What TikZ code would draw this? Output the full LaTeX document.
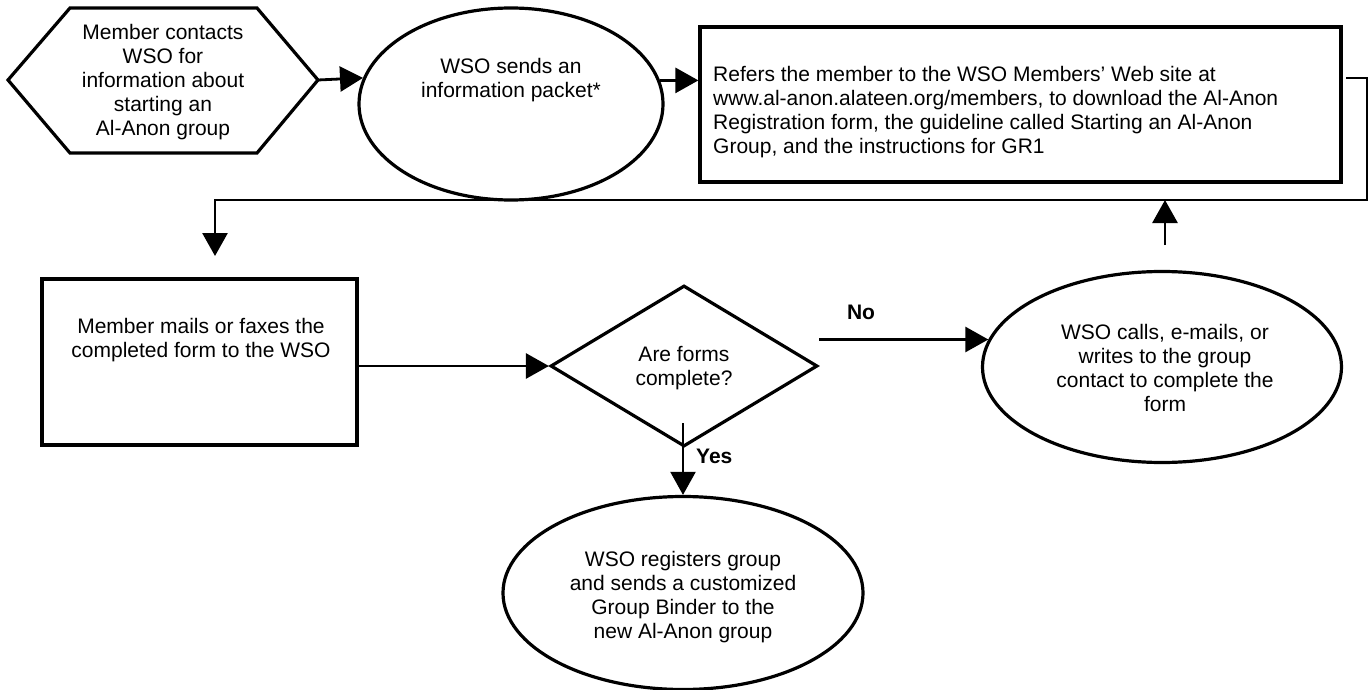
\documentclass[tikz,border=0pt]{standalone}
\usepackage{fontspec}
\setmainfont{Liberation Sans}
\usetikzlibrary{shapes.geometric,arrows.meta,calc}
\begin{document}
\begin{tikzpicture}[x=1pt,y=-1pt,
  every node/.style={font=\fontsize{21}{24}\selectfont},
  shp/.style={draw,line width=3.2pt,inner sep=0pt},
  con/.style={line width=2.8pt,line join=miter},
  arr/.style={con,-{Triangle[length=23pt,width=25pt]}},
  txt/.style={align=center,inner sep=0pt},
  lbl/.style={font=\bfseries\fontsize{21}{24}\selectfont}]
\useasboundingbox (0,0) rectangle (1369,690);
% hexagon
\coordinate (hL) at (8,80);
\coordinate (hR) at (318,80);
\draw[line width=3.2pt,line join=miter] (hL) -- (70,8) -- (257,8) -- (hR) -- (257,153) -- (70,153) -- cycle;
\node[txt] (hex) at (163,82) {Member contacts\\WSO for\\information about\\starting an\\Al-Anon group};
% ellipse 1
\node[shp,ellipse,minimum width=304pt,minimum height=192pt] (e1) at (511,104) {};
\node[txt] (e1t) at (511,80) {WSO sends an\\information packet*};
% rectangle 2
\node[shp,rectangle,minimum width=641pt,minimum height=155pt] (r2) at (1020.5,104.5) {};
\node[txt,align=left,anchor=west] (r2t) at (713,112.5) {Refers the member to the WSO Members’ Web site at\\www.al-anon.alateen.org/members, to download the Al-Anon\\Registration form, the guideline called Starting an Al-Anon\\Group, and the instructions for GR1};
% rectangle 3
\node[shp,rectangle,minimum width=315pt,minimum height=166pt] (r3) at (199.5,362) {};
\node[txt] (r3t) at (201,340) {Member mails or faxes the\\completed form to the WSO};
% diamond
\node[shp,diamond,minimum width=267pt,minimum height=161pt] (d) at (684,366) {};
\node[txt] (dt) at (684,368) {Are forms\\complete?};
% ellipse 4
\node[shp,ellipse,minimum width=359pt,minimum height=191pt] (e4) at (1162,367) {};
\node[txt] (e4t) at (1165,368) {WSO calls, e-mails, or\\writes to the group\\contact to complete the\\form};
% ellipse 5
\node[shp,ellipse,minimum width=360pt,minimum height=193pt] (e5) at (683,593) {};
\node[txt] (e5t) at (683,597) {WSO registers group\\and sends a customized\\Group Binder to the\\new Al-Anon group};
% connectors
\draw[arr] (hR) -- (e1.170.7);
\draw[arr] (e1.9.3) -- (e1.9.3 -| r2.west);
\coordinate (c0) at (1346,78);
\coordinate (c1) at (215,256);
\draw[arr] (c0) -- (1367,78) -- (1367,200) -- (215,200) -- (c1);
\coordinate (c2) at (1165,245);
\coordinate (c3) at (1165,200);
\draw[arr] (c2) -- (c3);
\draw[arr] (r3.east |- d.west) -- (d.west);
\draw[arr] (d.east |- e4.171.8) -- (e4.171.8);
\node[lbl] (no) at (861,312) {No};
\coordinate (c4) at (683,423);
\draw[arr,line width=2.2pt] (c4) -- (e5.north);
\node[lbl,fill=white,anchor=west,inner sep=2pt] (yes) at (694,456) {Yes};
\end{tikzpicture}
\end{document}
